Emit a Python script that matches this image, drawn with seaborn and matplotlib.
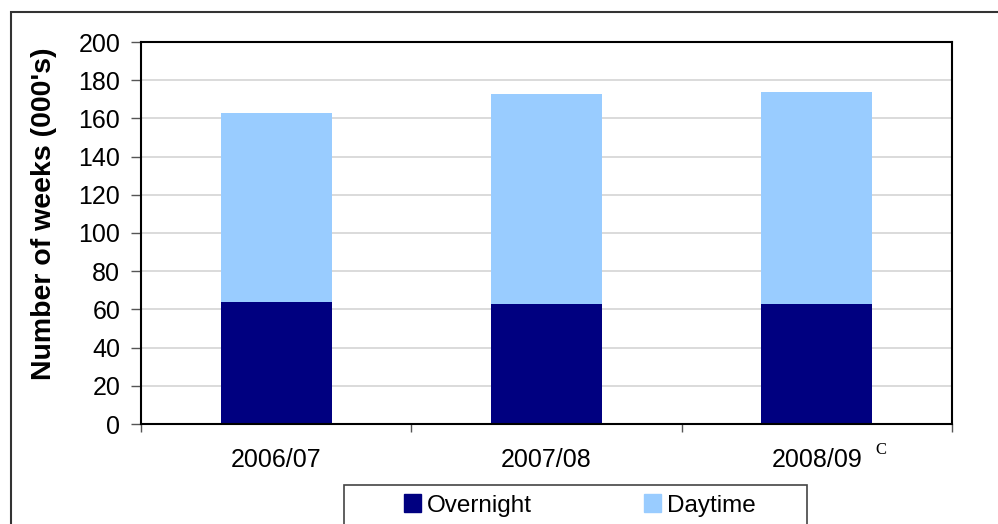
import matplotlib
matplotlib.use("Agg")
import matplotlib.pyplot as plt
import seaborn as sb
import pandas as pd
from matplotlib.patches import Rectangle, Patch

years = ["2006/07", "2007/08", "2008/09"]
overnight = [64, 63, 63]
daytime = [99, 110, 111]

NAVY = "#000080"
LIGHT = "#99CCFF"

df = pd.DataFrame({"year": years, "overnight": overnight, "daytime": daytime})
df["total"] = df["overnight"] + df["daytime"]

sb.set_style("white")
plt.rcParams["font.family"] = ["Liberation Sans", "DejaVu Sans"]
plt.rcParams["text.color"] = "black"
plt.rcParams["axes.labelcolor"] = "black"
plt.rcParams["xtick.labelcolor"] = "black"
plt.rcParams["ytick.labelcolor"] = "black"

fig = plt.figure(figsize=(9.98, 5.24), dpi=100)
ax = fig.add_axes([141 / 998, 100 / 524, 811 / 998, 382 / 524])

sb.barplot(x="year", y="total", data=df, ax=ax, color=LIGHT, width=0.41,
           saturation=1, edgecolor="none")
sb.barplot(x="year", y="overnight", data=df, ax=ax, color=NAVY, width=0.41,
           saturation=1, edgecolor="none")

ax.set_xlim(-0.5, 2.5)
ax.set_ylim(0, 200)
ax.set_yticks(range(0, 201, 20))
ax.yaxis.grid(True, color="#d4d4d4", linewidth=1.2)
ax.set_axisbelow(True)
for s in ax.spines.values():
    s.set_visible(True)
    s.set_color("black")
    s.set_linewidth(1.5)

ax.set_xlabel("")
ax.set_ylabel("Number of weeks (000's)", fontsize=20.5, fontweight="bold")
ax.yaxis.set_label_coords(-0.103, 0.55)
ax.tick_params(axis="y", which="major", direction="out", length=7, width=1,
               color="#555555", labelsize=18, left=True, pad=8)
ax.set_xticks([0, 1, 2])
ax.set_xticklabels(years)
ax.tick_params(axis="x", which="major", length=0, labelsize=18, pad=17)
ax.set_xticks([-0.5, 0.5, 1.5, 2.5], minor=True)
ax.tick_params(axis="x", which="minor", direction="out", length=6, width=1,
               color="#555555", bottom=True)

fig.text(875 / 998, 1 - 450.5 / 524, "C", fontsize=12, family="Liberation Serif",
         ha="left", va="center")

# outer chart border (cut off at right and bottom)
fig.patches.append(Rectangle((11 / 998, -0.2), 1.2, 0.2 + (524 - 12) / 524,
                             transform=fig.transFigure, fill=False,
                             edgecolor="#333333", linewidth=1.5))

# legend frame, cut off by the bottom edge
fig.patches.append(Rectangle((344 / 998, -0.2), 463 / 998, 0.2 + (524 - 485) / 524,
                             transform=fig.transFigure, fill=False,
                             edgecolor="#444444", linewidth=1.2))

handles = [Patch(color=NAVY, label="Overnight"), Patch(color=LIGHT, label="Daytime")]
leg = fig.legend(handles=handles, ncol=2, loc="center left",
                 bbox_to_anchor=(404 / 998, 1 - 505.5 / 524),
                 fontsize=17.5, frameon=False,
                 handlelength=0.7, handleheight=0.7, handletextpad=0.25,
                 columnspacing=4.6, borderaxespad=0, borderpad=0)

fig.savefig("out.png", dpi=100)
